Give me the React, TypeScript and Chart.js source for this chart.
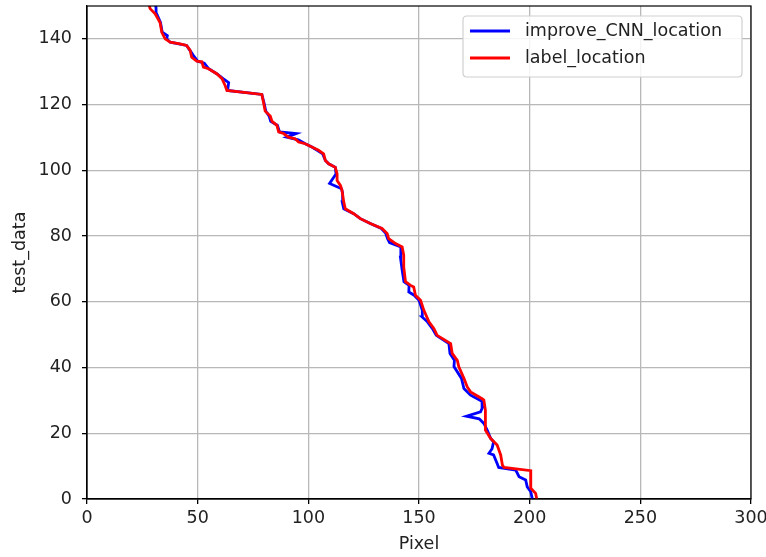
import { useEffect, useRef } from "react";
import { Chart, registerables } from "chart.js";

Chart.register(...registerables);

const seriesNames = ["improve_CNN_location", "label_location"];
const seriesColors = ["#0000ff", "#ff0000"];

const improveY = [
  0, 2.2, 3.7, 5.8, 6.8, 8.8, 9.6, 10.8, 13.4, 13.9, 15.3, 17.4, 18.4, 21, 23, 24.4, 25.2, 26.5, 28, 29.6,
  30, 31.6, 33.6, 36.7, 40.3, 42.2, 44.3, 47.3, 49.8, 51.9, 53.9, 55.4, 57.4, 60.5, 62, 63, 65, 66.1, 69.6,
  73.6, 76.7, 78, 79.2, 80.8, 82.3, 83.8, 85.3, 86.8, 88.3, 90.4, 93, 94.4, 96, 98.9, 100.9, 102, 103, 105,
  106.1, 107.1, 108.1, 109.3, 110.1, 111.2, 111.7, 113.7, 114.9, 116.5, 118, 120.5, 123.1, 124.3, 126.7,
  127.9, 129.4, 130.9, 132.6, 133.2, 134.9, 136.5, 138, 139, 140, 141, 142, 145, 147.6, 149.4, 151,
];
const improveX = [
  201.2, 200.5, 198.9, 198.2, 195.2, 193.7, 186, 185.3, 183.7, 181.6, 183, 183.7, 182.4, 180.8, 179.3, 177.2, 171.5, 177.8, 178.8, 178.5,
  177.8, 173.3, 170.3, 169.2, 165.8, 166, 164, 163.5, 157.8, 156, 153.8, 151.4, 151.5, 150, 147.8, 145.4, 145.5, 143.2, 142.4,
  141.6, 141.8, 136.7, 135.8, 135, 133, 128, 123.5, 120.5, 116, 115.3, 115.5, 115, 109.6, 112.5, 112.2, 109.2, 107.7, 106.5,
  104, 101.6, 98.6, 95.5, 90.3, 94.5, 87, 86, 83, 82.3, 80.8, 80, 79, 63.5, 64,
  61.5, 58.6, 55, 53, 50, 48.1, 46.5, 45, 37.6, 36, 36.3, 34, 33.2, 31.5, 31.2, 30.8,
];

const labelY = [
  0, 1.7, 3.3, 8.6, 9.6, 10.3, 13.4, 16.4, 18.4, 21, 27, 30.1, 30.5, 32.6, 34.1, 36.7, 40.2, 42.2, 44.3, 47.3,
  49.8, 51.9, 53.9, 57.4, 60.5, 62, 64.5, 65, 66.1, 70.6, 74.2, 76.7, 77.7, 79.2, 80.8, 82.3, 83.8, 85.3, 86.8,
  88.3, 90.4, 93.9, 95.4, 96.9, 98.9, 100.9, 102, 103, 105, 106.1, 107.1, 108.1, 108.6, 109.6, 110.1, 111.2,
  111.7, 113.7, 114.9, 116.5, 118, 120.5, 123.1, 124.3, 125.8, 127.9, 129.4, 130.9, 131.4, 133, 133.2, 134.4,
  136.5, 138, 138.5, 139, 140, 142, 145, 147.6, 149.2, 151,
];
const labelX = [
  203.2, 202.7, 200.5, 200.5, 188.4, 187.7, 186.9, 185.3, 182.4, 180, 180, 179.3, 178.5, 173.3, 171.8, 170.3, 168, 167.3, 165, 164.3,
  158.2, 156.7, 154.5, 152.2, 150.7, 148.4, 147.6, 146.2, 143.9, 143.1, 143.1, 142.4, 139.4, 136.3, 135.6, 133.3, 128, 123.5, 120.5,
  116.7, 116, 115.2, 114.5, 113, 113, 112.2, 109.2, 107.7, 106.9, 104.6, 101.6, 98.6, 95.6, 94, 91, 88.8,
  86.6, 85.8, 83.6, 82.8, 80.5, 79.8, 79, 63.2, 62.4, 61, 58.6, 54.9, 52.6, 51.9, 49.6, 47.3,
  46.6, 45, 42, 37.6, 35.3, 33.8, 33, 30.8, 28.5, 27.8,
];

const xTicks = [0, 50, 100, 150, 200, 250, 300];
const yTicks = [0, 20, 40, 60, 80, 100, 120, 140];
const xTitle = "Pixel";
const yTitle = "test_data";

const FONT_FAMILY = "'DejaVu Sans', sans-serif";
const TEXT_COLOR = "#222";

function toPoints(xs: number[], ys: number[]) {
  return xs.map((x, i) => ({ x, y: ys[i] }));
}

const framePlugin = {
  id: "frame",
  afterDatasetsDraw(chart: any) {
    const { ctx, chartArea } = chart;
    const { left, top, right, bottom } = chartArea;
    ctx.save();
    ctx.strokeStyle = "#000";
    ctx.lineWidth = 1.2;
    ctx.strokeRect(left, top, right - left, bottom - top);
    ctx.restore();
  },
};

const legendPlugin = {
  id: "innerLegend",
  afterDraw(chart: any) {
    const { ctx, chartArea } = chart;
    const boxRight = chartArea.right - 9;
    const boxLeft = boxRight - 279;
    const boxTop = chartArea.top + 10;
    const boxH = 61;
    ctx.save();
    ctx.beginPath();
    const r = 4;
    ctx.moveTo(boxLeft + r, boxTop);
    ctx.lineTo(boxRight - r, boxTop);
    ctx.quadraticCurveTo(boxRight, boxTop, boxRight, boxTop + r);
    ctx.lineTo(boxRight, boxTop + boxH - r);
    ctx.quadraticCurveTo(boxRight, boxTop + boxH, boxRight - r, boxTop + boxH);
    ctx.lineTo(boxLeft + r, boxTop + boxH);
    ctx.quadraticCurveTo(boxLeft, boxTop + boxH, boxLeft, boxTop + boxH - r);
    ctx.lineTo(boxLeft, boxTop + r);
    ctx.quadraticCurveTo(boxLeft, boxTop, boxLeft + r, boxTop);
    ctx.closePath();
    ctx.fillStyle = "rgba(255,255,255,0.85)";
    ctx.fill();
    ctx.strokeStyle = "#d0d0d0";
    ctx.lineWidth = 1.2;
    ctx.stroke();
    ctx.font = `17.5px ${FONT_FAMILY}`;
    ctx.textBaseline = "middle";
    ctx.textAlign = "left";
    chart.data.datasets.forEach((ds: any, i: number) => {
      const y = boxTop + 15 + i * 27;
      ctx.strokeStyle = ds.borderColor;
      ctx.lineWidth = 2.8;
      ctx.beginPath();
      ctx.moveTo(boxLeft + 7, y);
      ctx.lineTo(boxLeft + 47, y);
      ctx.stroke();
      ctx.fillStyle = TEXT_COLOR;
      ctx.fillText(ds.label, boxLeft + 62, y);
    });
    ctx.restore();
  },
};

export default function App() {
  const canvasRef = useRef<HTMLCanvasElement | null>(null);

  useEffect(() => {
    document.body.style.margin = "0";
    const canvas = canvasRef.current;
    if (!canvas) return;
    const font = { family: FONT_FAMILY, size: 17.5 };
    const chart = new Chart(canvas, {
      type: "scatter",
      data: {
        datasets: [
          {
            label: seriesNames[0],
            data: toPoints(improveX, improveY),
            borderColor: seriesColors[0],
            backgroundColor: seriesColors[0],
            showLine: true,
            pointRadius: 0,
            borderWidth: 2.8,
            tension: 0,
            order: 1,
          },
          {
            label: seriesNames[1],
            data: toPoints(labelX, labelY),
            borderColor: seriesColors[1],
            backgroundColor: seriesColors[1],
            showLine: true,
            pointRadius: 0,
            borderWidth: 2.8,
            tension: 0,
            order: 0,
          },
        ],
      },
      options: {
        animation: false,
        responsive: false,
        devicePixelRatio: 1,
        layout: { padding: { left: 0, right: 15, top: 6, bottom: 0 } },
        plugins: {
          legend: { display: false },
          tooltip: { enabled: false },
        },
        scales: {
          x: {
            type: "linear",
            min: 0,
            max: 300,
            afterBuildTicks: (s: any) => {
              s.ticks = xTicks.map((v) => ({ value: v }));
            },
            afterFit: (s: any) => {
              s.height = 58;
              s.paddingLeft = 0;
              s.paddingRight = 0;
            },
            grid: { color: "#b8b8b8", lineWidth: 1.3, tickColor: "#000", tickLength: 5, drawTicks: true },
            border: { display: true, color: "#000", width: 1.2 },
            ticks: { font, color: TEXT_COLOR, padding: 4, maxRotation: 0, autoSkip: false },
            title: { display: true, text: xTitle, font, color: TEXT_COLOR, padding: { top: 0, bottom: 2 } },
          },
          y: {
            type: "linear",
            min: 0,
            max: 150,
            afterBuildTicks: (s: any) => {
              s.ticks = yTicks.map((v) => ({ value: v }));
            },
            afterFit: (s: any) => {
              s.width = 87;
              s.paddingTop = 0;
              s.paddingBottom = 0;
            },
            grid: { color: "#b8b8b8", lineWidth: 1.3, tickColor: "#000", tickLength: 5, drawTicks: true },
            border: { display: true, color: "#000", width: 1.2 },
            ticks: { font, color: TEXT_COLOR, padding: 10, autoSkip: false },
            title: { display: true, text: yTitle, font, color: TEXT_COLOR, padding: { top: 10, bottom: 0 } },
          },
        },
      },
      plugins: [framePlugin, legendPlugin],
    } as any);
    return () => chart.destroy();
  }, []);

  return (
    <div style={{ width: 766, height: 557 }}>
      <canvas ref={canvasRef} width={766} height={557} style={{ display: "block" }} />
    </div>
  );
}
